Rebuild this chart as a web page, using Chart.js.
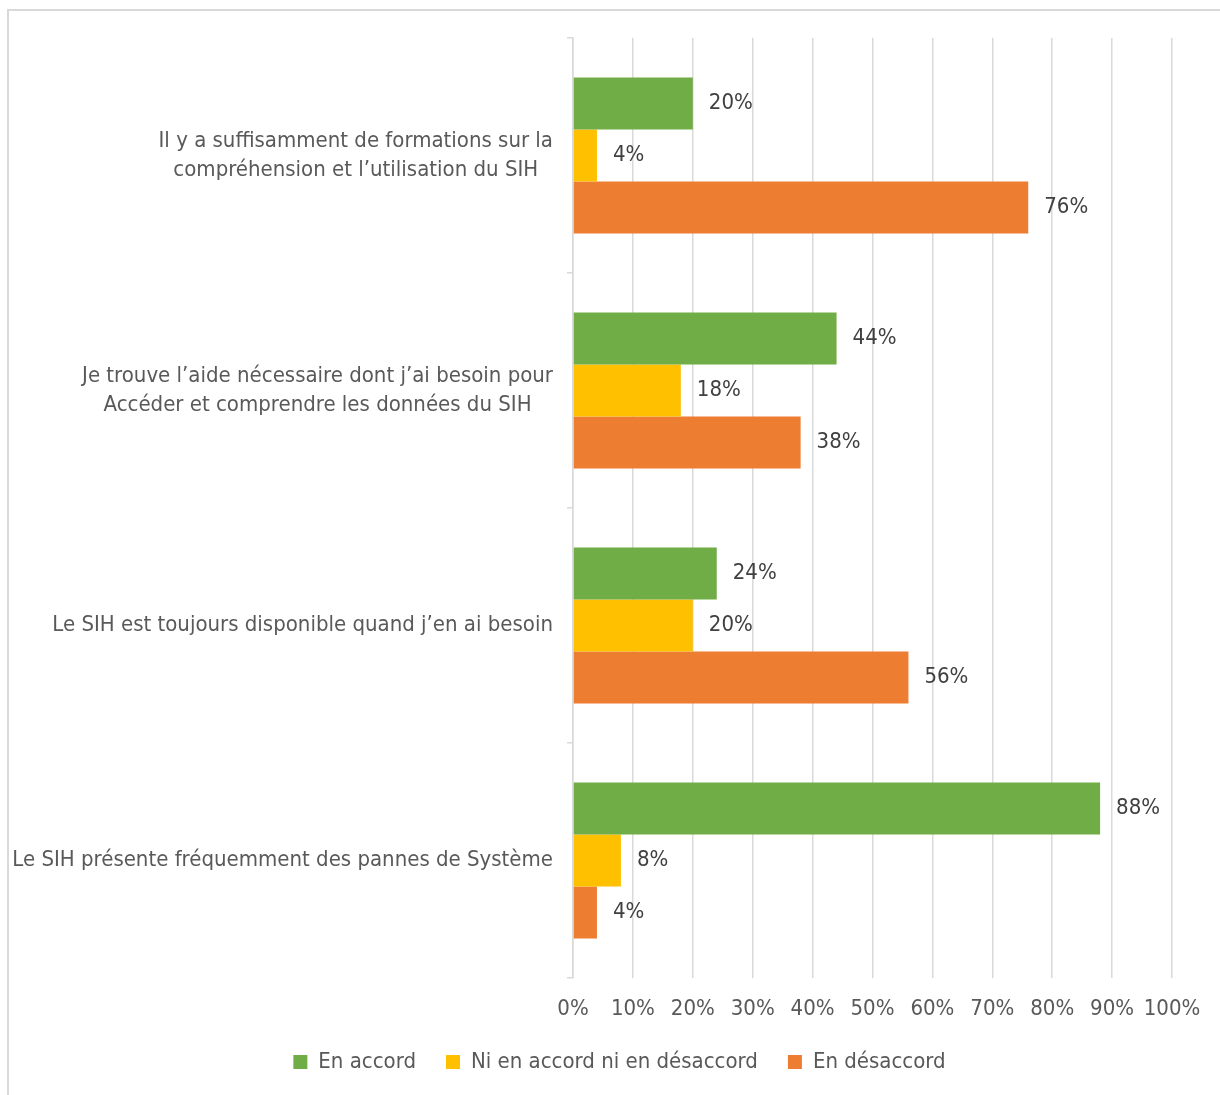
<!DOCTYPE html>
<html><head><meta charset="utf-8">
<script src="https://cdn.jsdelivr.net/npm/chart.js@4.4.0/dist/chart.umd.min.js"></script>
<style>
html,body{margin:0;padding:0;width:1220px;height:1095px;overflow:hidden;background:#fff}
canvas{position:absolute;left:0;top:0}
</style></head><body>
<canvas id="c" width="1220" height="1095"></canvas>
<script>
const categories = [
  ["Il y a suffisamment de formations sur la", "compréhension et l’utilisation du SIH"],
  ["Je trouve l’aide nécessaire dont j’ai besoin pour", "Accéder et comprendre les données du SIH"],
  ["Le SIH est toujours disponible quand j’en ai besoin"],
  ["Le SIH présente fréquemment des pannes de Système"]
];
const seriesNames = ["En accord", "Ni en accord ni en désaccord", "En désaccord"];
const enAccord = [20, 44, 24, 88];
const niAccordNiDesaccord = [4, 18, 20, 8];
const enDesaccord = [76, 38, 56, 4];
const xTickValues = [0, 10, 20, 30, 40, 50, 60, 70, 80, 90, 100];

const FONT = "'Liberation Sans Narrow', 'Arial Narrow', 'DejaVu Sans Condensed', sans-serif";
const FS = 22;
const TEXT = '#595959';
const AREA_BOTTOM = 978;
const LEGEND_CENTER_Y = 1062;
const LEGEND_PAD = 30;

const framePlugin = {
  id: 'frame',
  beforeDraw(chart) {
    const ctx = chart.ctx;
    ctx.save();
    ctx.strokeStyle = '#d9d9d9';
    ctx.lineWidth = 2;
    ctx.beginPath();
    ctx.moveTo(8, 1095);
    ctx.lineTo(8, 10);
    ctx.lineTo(1220, 10);
    ctx.stroke();
    ctx.restore();
  }
};

const legendPosPlugin = {
  id: 'legendPos',
  afterLayout(chart) {
    const lg = chart.legend;
    const h = lg.bottom - lg.top;
    lg.top = LEGEND_CENTER_Y - LEGEND_PAD - FS / 2;
    lg.bottom = lg.top + h;
  }
};

const catLabelPlugin = {
  id: 'catLabels',
  afterDraw(chart) {
    const ctx = chart.ctx;
    const ys = chart.scales.y;
    const right = chart.chartArea.left - 20;
    const lh = 29;
    ctx.save();
    ctx.font = FS + 'px ' + FONT;
    ctx.fillStyle = TEXT;
    ctx.textAlign = 'center';
    ctx.textBaseline = 'middle';
    chart.data.labels.forEach((lines, i) => {
      const maxW = Math.max(...lines.map(l => ctx.measureText(l).width));
      const cx = right - maxW / 2;
      const cy = ys.getPixelForValue(i);
      const y0 = cy - (lines.length - 1) * lh / 2;
      lines.forEach((l, k) => ctx.fillText(l, cx, y0 + k * lh));
    });
    ctx.restore();
  }
};

const valueLabelPlugin = {
  id: 'valueLabels',
  afterDatasetsDraw(chart) {
    const ctx = chart.ctx;
    ctx.save();
    ctx.font = FS + 'px ' + FONT;
    ctx.fillStyle = '#404040';
    ctx.textAlign = 'left';
    ctx.textBaseline = 'middle';
    chart.data.datasets.forEach((ds, di) => {
      const meta = chart.getDatasetMeta(di);
      meta.data.forEach((bar, i) => {
        ctx.fillText(ds.data[i] + '%', bar.x + 16, bar.y);
      });
    });
    ctx.restore();
  }
};

new Chart(document.getElementById('c'), {
  type: 'bar',
  data: {
    labels: categories,
    datasets: [
      { label: seriesNames[0], data: enAccord, backgroundColor: '#70ad47' },
      { label: seriesNames[1], data: niAccordNiDesaccord, backgroundColor: '#ffc000' },
      { label: seriesNames[2], data: enDesaccord, backgroundColor: '#ed7d31' }
    ]
  },
  options: {
    indexAxis: 'y',
    responsive: false,
    animation: false,
    devicePixelRatio: 1,
    categoryPercentage: 0.664,
    barPercentage: 1,
    layout: { padding: { left: 67, right: 48, top: 38, bottom: 0 } },
    scales: {
      x: {
        min: 0, max: 100,
        afterBuildTicks(scale) { scale.ticks = xTickValues.map(v => ({ value: v })); },
        afterFit(scale) {
          const lh = scale.chart.legend ? (scale.chart.legend.height || 0) : 0;
          scale.height = Math.max(1, 1095 - AREA_BOTTOM - lh);
        },
        grid: { color: '#d9d9d9', lineWidth: 1.5, drawTicks: false },
        border: { display: false },
        ticks: {
          padding: 18,
          maxRotation: 0, minRotation: 0, autoSkip: false,
          color: TEXT,
          font: { family: FONT, size: FS },
          callback: v => v + '%'
        }
      },
      y: {
        afterFit(scale) { scale.width = 573 - 67; },
        grid: { drawOnChartArea: false, drawTicks: true, tickLength: 6, tickColor: '#d9d9d9', lineWidth: 1.5 },
        border: { display: true, color: '#d9d9d9', width: 1.5 },
        ticks: { display: false }
      }
    },
    plugins: {
      legend: {
        position: 'bottom',
        labels: {
          boxWidth: 14, boxHeight: 14, padding: LEGEND_PAD,
          color: TEXT,
          font: { family: FONT, size: FS }
        }
      },
      tooltip: { enabled: false }
    }
  },
  plugins: [framePlugin, legendPosPlugin, catLabelPlugin, valueLabelPlugin]
});
</script>
</body></html>
